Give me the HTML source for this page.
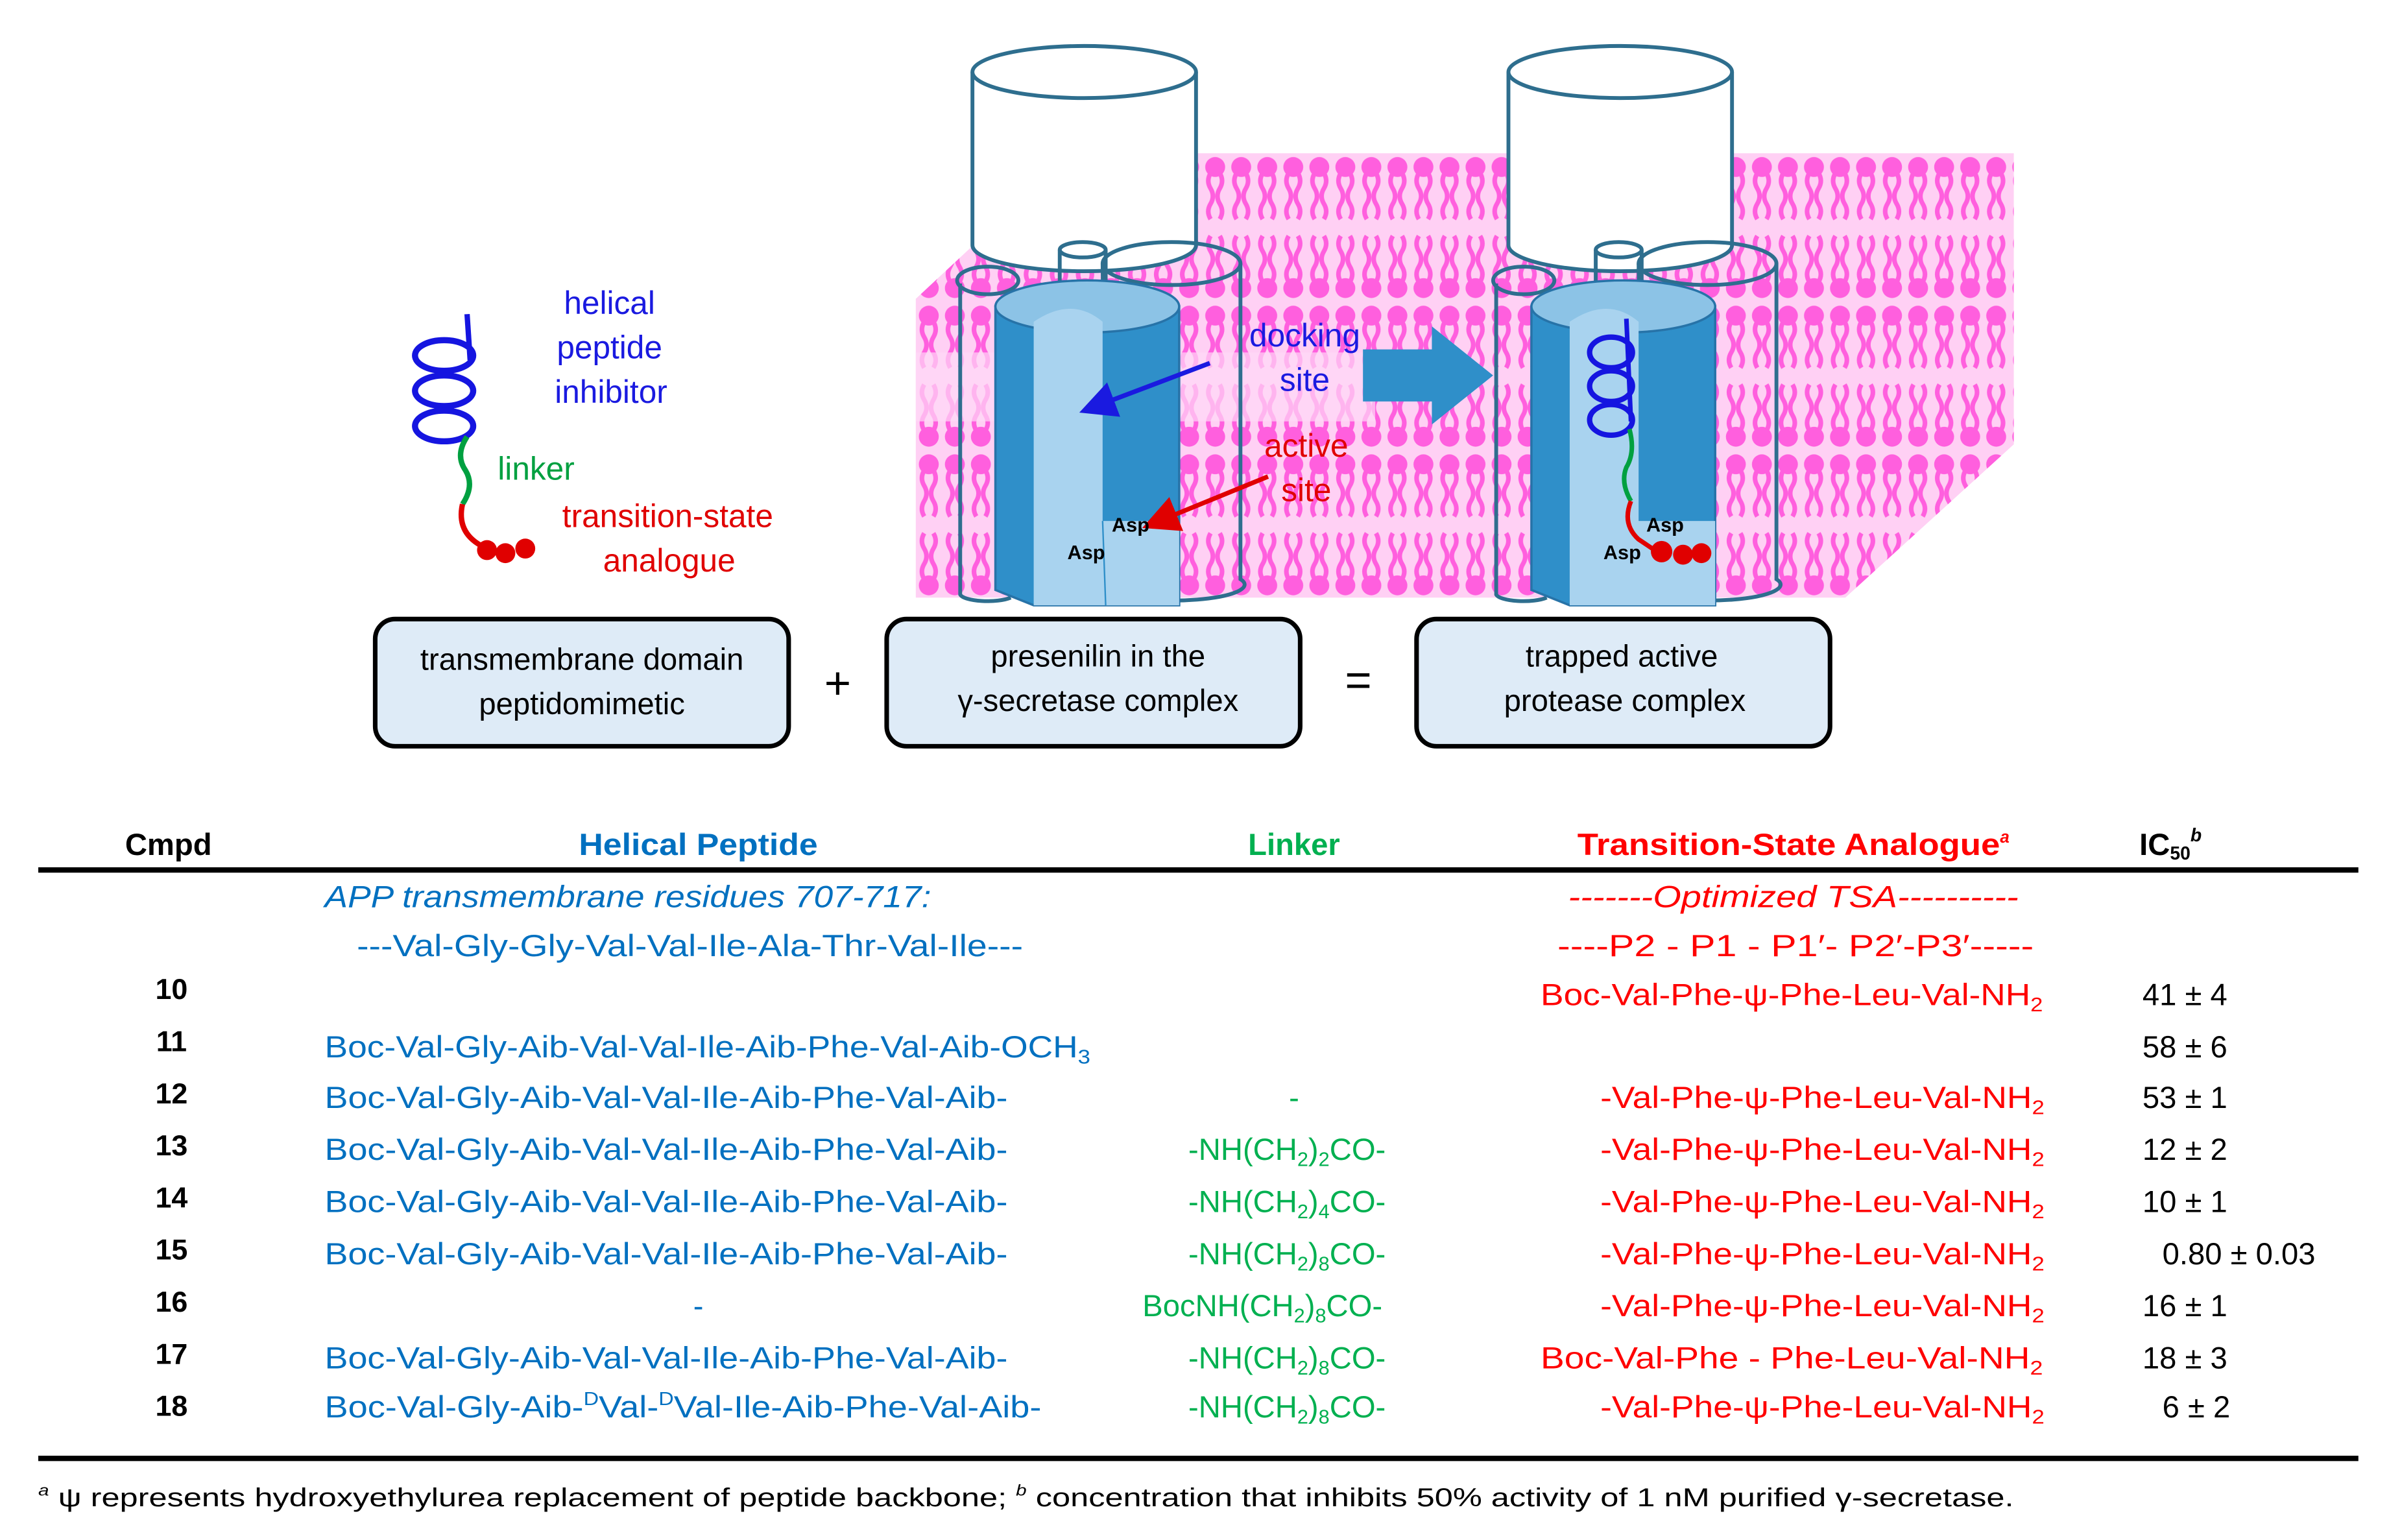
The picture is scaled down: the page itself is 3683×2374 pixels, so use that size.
<!DOCTYPE html>
<html><head><meta charset="utf-8"><style>
html,body{margin:0;padding:0;background:#fff}
svg{display:block}
text{font-family:"Liberation Sans",sans-serif}
</style></head><body>
<svg width="3683" height="2374" viewBox="0 0 1560 1005" preserveAspectRatio="none" xmlns="http://www.w3.org/2000/svg">
<defs>
<pattern id="lip" patternUnits="userSpaceOnUse" x="598" y="100" width="17" height="97">
<rect width="17" height="97" fill="#ffd0f4"/>
<circle cx="8.5" cy="9" r="6.5" fill="#ff5fde"/>
<path d="M5.5 13 q-3 5 0 10 q3 5 0 10 q-3 5 0 10" stroke="#ff5fde" stroke-width="3" fill="none"/>
<path d="M11.5 13 q3 5 0 10 q-3 5 0 10 q3 5 0 10" stroke="#ff5fde" stroke-width="3" fill="none"/>
<circle cx="8.5" cy="88" r="6.5" fill="#ff5fde"/>
<path d="M5.5 84 q-3 -5 0 -10 q3 -5 0 -10 q-3 -5 0 -10" stroke="#ff5fde" stroke-width="3" fill="none"/>
<path d="M11.5 84 q3 -5 0 -10 q-3 -5 0 -10 q3 -5 0 -10" stroke="#ff5fde" stroke-width="3" fill="none"/>
</pattern>
<marker id="ab" markerWidth="8" markerHeight="8" refX="4" refY="4" orient="auto" markerUnits="strokeWidth"><path d="M0 0 L8 4 L0 8 z" fill="#1a1ae0"/></marker>
<marker id="ar" markerWidth="8" markerHeight="8" refX="4" refY="4" orient="auto" markerUnits="strokeWidth"><path d="M0 0 L8 4 L0 8 z" fill="#e00000"/></marker>
</defs>

<polygon points="598,195 700,100 1315,100 1315,290 1205,390 598,390" fill="url(#lip)"/>
<rect x="598" y="230" width="300" height="45" fill="#ffd8f6" opacity="0.7"/>

<g stroke="#2e6e8e" stroke-width="2.5" fill="none">
<path d="M635 47 L635 160 A73 17 0 0 0 781 160 L781 47" fill="#fff"/>
<ellipse cx="708" cy="47" rx="73" ry="17" fill="#fff"/>
<path d="M627 185 L627 388 A18 5 0 0 0 660 390"/>
<ellipse cx="645" cy="183" rx="20" ry="9"/>
<path d="M720 172 L722 385 A45 10 0 0 0 810 378 L810 172"/>
<ellipse cx="765" cy="172" rx="45" ry="14"/>
<path d="M692 163 L692 190 M722 163 L722 190"/>
<ellipse cx="707" cy="163" rx="15" ry="5"/>
</g>
<path d="M650 200 L650 385 L675 395 L770 395 L770 200 Z" fill="#2f8fc9" stroke="#2773a8" stroke-width="1.5"/>
<ellipse cx="710" cy="200" rx="60" ry="17" fill="#8cc3e6" stroke="#2773a8" stroke-width="1.5"/>
<path d="M675 210 Q700 193 720 210 L720 340 L770 340 L770 395 L675 395 Z" fill="#a9d3ef"/>
<path d="M722 345 q7 -10 14 0 q7 -10 14 0 q7 -10 14 0 L764 395 L722 395 Z" fill="#a9d3ef"/>
<path d="M720 340 L722 395" stroke="#2f8fc9" stroke-width="1"/>

<g stroke="#2e6e8e" stroke-width="2.5" fill="none">
<path d="M985 47 L985 160 A73 17 0 0 0 1131 160 L1131 47" fill="#fff"/>
<ellipse cx="1058" cy="47" rx="73" ry="17" fill="#fff"/>
<path d="M977 185 L977 388 A18 5 0 0 0 1010 390"/>
<ellipse cx="995" cy="183" rx="20" ry="9"/>
<path d="M1070 172 L1072 385 A45 10 0 0 0 1160 378 L1160 172"/>
<ellipse cx="1115" cy="172" rx="45" ry="14"/>
<path d="M1042 163 L1042 190 M1072 163 L1072 190"/>
<ellipse cx="1057" cy="163" rx="15" ry="5"/>
</g>
<path d="M1000 200 L1000 385 L1025 395 L1120 395 L1120 200 Z" fill="#2f8fc9" stroke="#2773a8" stroke-width="1.5"/>
<ellipse cx="1060" cy="200" rx="60" ry="17" fill="#8cc3e6" stroke="#2773a8" stroke-width="1.5"/>
<path d="M1025 210 Q1050 193 1070 210 L1070 340 L1120 340 L1120 395 L1025 395 Z" fill="#a9d3ef"/>
<path d="M1062 208 L1065 275" stroke="#1515e0" stroke-width="3" fill="none"/>
<g stroke="#1515e0" stroke-width="3.5" fill="none">
<ellipse cx="1052" cy="230" rx="14" ry="10"/>
<ellipse cx="1052" cy="252" rx="14" ry="10"/>
<ellipse cx="1052" cy="274" rx="14" ry="10"/>
</g>
<path d="M1064 280 q4 15 -2 25 q-4 10 3 22" stroke="#00a040" stroke-width="3" fill="none"/>
<path d="M1065 327 q-6 15 5 25 l12 8" stroke="#e00000" stroke-width="3" fill="none"/>
<circle cx="1085" cy="360" r="7" fill="#e00000"/><circle cx="1099" cy="362" r="6.5" fill="#e00000"/><circle cx="1111" cy="361" r="6.5" fill="#e00000"/>
<text x="1075" y="347" font-size="13" font-weight="bold">Asp</text>
<text x="1047" y="365" font-size="13" font-weight="bold">Asp</text>

<polygon points="890,228 935,228 935,213 975,245 935,277 935,262 890,262" fill="#2f8fc9"/>

<text x="852" y="226" font-size="21" fill="#1a1ae0" text-anchor="middle">docking</text>
<text x="852" y="255" font-size="21" fill="#1a1ae0" text-anchor="middle">site</text>
<text x="853" y="298" font-size="21" fill="#e00000" text-anchor="middle">active</text>
<text x="853" y="327" font-size="21" fill="#e00000" text-anchor="middle">site</text>
<line x1="790" y1="237" x2="716" y2="265" stroke="#1a1ae0" stroke-width="3" marker-end="url(#ab)"/>
<line x1="828" y1="311" x2="757" y2="340" stroke="#e00000" stroke-width="3" marker-end="url(#ar)"/>
<text x="726" y="347" font-size="13" font-weight="bold">Asp</text>
<text x="697" y="365" font-size="13" font-weight="bold">Asp</text>

<path d="M305 205 L307 235" stroke="#1515e0" stroke-width="3.5" fill="none"/>
<g stroke="#1515e0" stroke-width="4" fill="none">
<ellipse cx="290" cy="232" rx="19" ry="10"/>
<ellipse cx="290" cy="255" rx="19" ry="10"/>
<ellipse cx="290" cy="278" rx="19" ry="10"/>
</g>
<path d="M305 285 q-8 12 -1 22 q6 10 -2 22" stroke="#00a040" stroke-width="3.5" fill="none"/>
<path d="M302 329 q-4 18 12 27" stroke="#e00000" stroke-width="3.5" fill="none"/>
<circle cx="318" cy="359" r="6.5" fill="#e00000"/><circle cx="330" cy="361" r="6.5" fill="#e00000"/><circle cx="343" cy="358" r="6.5" fill="#e00000"/>
<text x="398" y="205" font-size="21" fill="#1a1ae0" text-anchor="middle">helical</text>
<text x="398" y="234" font-size="21" fill="#1a1ae0" text-anchor="middle">peptide</text>
<text x="399" y="263" font-size="21" fill="#1a1ae0" text-anchor="middle">inhibitor</text>
<text x="325" y="313" font-size="21" fill="#00a040">linker</text>
<text x="436" y="344" font-size="21" fill="#e00000" text-anchor="middle">transition-state</text>
<text x="437" y="373" font-size="21" fill="#e00000" text-anchor="middle">analogue</text>

<g fill="#deebf7" stroke="#000" stroke-width="3">
<rect x="245" y="404" width="270" height="83" rx="13"/>
<rect x="579" y="404" width="270" height="83" rx="13"/>
<rect x="925" y="404" width="270" height="83" rx="13"/>
</g>
<g font-size="20" text-anchor="middle">
<text x="380" y="437">transmembrane domain</text>
<text x="380" y="466">peptidomimetic</text>
<text x="717" y="435">presenilin in the</text>
<text x="717" y="464">γ-secretase complex</text>
<text x="1059" y="435">trapped active</text>
<text x="1061" y="464">protease complex</text>
<text x="547" y="456" font-size="30">+</text>
<text x="887" y="454" font-size="30">=</text>
</g>

<g font-size="20" font-weight="bold">
<text x="110" y="558" text-anchor="middle">Cmpd</text>
<text x="456" y="558" text-anchor="middle" fill="#0070c0" textLength="156" lengthAdjust="spacingAndGlyphs">Helical Peptide</text>
<text x="845" y="558" text-anchor="middle" fill="#00b050">Linker</text>
<text x="1030" y="558" fill="#ff0000" textLength="276" lengthAdjust="spacingAndGlyphs">Transition-State Analogue</text>
<text x="1306" y="550" font-size="11" fill="#ff0000" font-style="italic">a</text>
<text x="1397" y="558">IC<tspan font-size="12" dy="3">50</tspan><tspan font-size="12" font-style="italic" dy="-12">b</tspan></text>
</g>
<rect x="25" y="566" width="1515" height="3.5" fill="#000"/>
<rect x="25" y="950" width="1515" height="3.5" fill="#000"/>

<g font-size="20">
<text x="212" y="592" fill="#0070c0" font-style="italic" textLength="396" lengthAdjust="spacingAndGlyphs">APP transmembrane residues 707-717:</text>
<text x="233" y="624" fill="#0070c0" textLength="435" lengthAdjust="spacingAndGlyphs">---Val-Gly-Gly-Val-Val-Ile-Ala-Thr-Val-Ile---</text>
<text x="1024" y="592" fill="#ff0000" font-style="italic" textLength="294" lengthAdjust="spacingAndGlyphs">-------Optimized TSA----------</text>
<text x="1017" y="624" fill="#ff0000" textLength="311" lengthAdjust="spacingAndGlyphs">----P2 - P1    -    P1′- P2′-P3′-----</text>

<g font-weight="bold" text-anchor="middle" font-size="19">
<text x="112" y="652">10</text><text x="112" y="686">11</text><text x="112" y="720">12</text>
<text x="112" y="754">13</text><text x="112" y="788">14</text><text x="112" y="822">15</text>
<text x="112" y="856">16</text><text x="112" y="890">17</text><text x="112" y="924">18</text>
</g>

<g fill="#0070c0">
<text x="212" y="690" textLength="500" lengthAdjust="spacingAndGlyphs">Boc-Val-Gly-Aib-Val-Val-Ile-Aib-Phe-Val-Aib-OCH<tspan font-size="13" dy="4">3</tspan></text>
<text x="212" y="723" textLength="446" lengthAdjust="spacingAndGlyphs">Boc-Val-Gly-Aib-Val-Val-Ile-Aib-Phe-Val-Aib-</text>
<text x="212" y="757" textLength="446" lengthAdjust="spacingAndGlyphs">Boc-Val-Gly-Aib-Val-Val-Ile-Aib-Phe-Val-Aib-</text>
<text x="212" y="791" textLength="446" lengthAdjust="spacingAndGlyphs">Boc-Val-Gly-Aib-Val-Val-Ile-Aib-Phe-Val-Aib-</text>
<text x="212" y="825" textLength="446" lengthAdjust="spacingAndGlyphs">Boc-Val-Gly-Aib-Val-Val-Ile-Aib-Phe-Val-Aib-</text>
<text x="456" y="859" text-anchor="middle">-</text>
<text x="212" y="893" textLength="446" lengthAdjust="spacingAndGlyphs">Boc-Val-Gly-Aib-Val-Val-Ile-Aib-Phe-Val-Aib-</text>
<text x="212" y="925" textLength="468" lengthAdjust="spacingAndGlyphs">Boc-Val-Gly-Aib-<tspan font-size="12" dy="-8">D</tspan><tspan dy="8">Val-</tspan><tspan font-size="12" dy="-8">D</tspan><tspan dy="8">Val-Ile-Aib-Phe-Val-Aib-</tspan></text>
</g>

<g fill="#00b050">
<text x="845" y="723" text-anchor="middle">-</text>
<text x="776" y="757">-NH(CH<tspan font-size="13" dy="4">2</tspan><tspan dy="-4">)</tspan><tspan font-size="13" dy="4">2</tspan><tspan dy="-4">CO-</tspan></text>
<text x="776" y="791">-NH(CH<tspan font-size="13" dy="4">2</tspan><tspan dy="-4">)</tspan><tspan font-size="13" dy="4">4</tspan><tspan dy="-4">CO-</tspan></text>
<text x="776" y="825">-NH(CH<tspan font-size="13" dy="4">2</tspan><tspan dy="-4">)</tspan><tspan font-size="13" dy="4">8</tspan><tspan dy="-4">CO-</tspan></text>
<text x="746" y="859">BocNH(CH<tspan font-size="13" dy="4">2</tspan><tspan dy="-4">)</tspan><tspan font-size="13" dy="4">8</tspan><tspan dy="-4">CO-</tspan></text>
<text x="776" y="893">-NH(CH<tspan font-size="13" dy="4">2</tspan><tspan dy="-4">)</tspan><tspan font-size="13" dy="4">8</tspan><tspan dy="-4">CO-</tspan></text>
<text x="776" y="925">-NH(CH<tspan font-size="13" dy="4">2</tspan><tspan dy="-4">)</tspan><tspan font-size="13" dy="4">8</tspan><tspan dy="-4">CO-</tspan></text>
</g>

<g fill="#ff0000">
<text x="1006" y="656" textLength="328" lengthAdjust="spacingAndGlyphs">Boc-Val-Phe-ψ-Phe-Leu-Val-NH<tspan font-size="13" dy="4">2</tspan></text>
<text x="1045" y="723" textLength="290" lengthAdjust="spacingAndGlyphs">-Val-Phe-ψ-Phe-Leu-Val-NH<tspan font-size="13" dy="4">2</tspan></text>
<text x="1045" y="757" textLength="290" lengthAdjust="spacingAndGlyphs">-Val-Phe-ψ-Phe-Leu-Val-NH<tspan font-size="13" dy="4">2</tspan></text>
<text x="1045" y="791" textLength="290" lengthAdjust="spacingAndGlyphs">-Val-Phe-ψ-Phe-Leu-Val-NH<tspan font-size="13" dy="4">2</tspan></text>
<text x="1045" y="825" textLength="290" lengthAdjust="spacingAndGlyphs">-Val-Phe-ψ-Phe-Leu-Val-NH<tspan font-size="13" dy="4">2</tspan></text>
<text x="1045" y="859" textLength="290" lengthAdjust="spacingAndGlyphs">-Val-Phe-ψ-Phe-Leu-Val-NH<tspan font-size="13" dy="4">2</tspan></text>
<text x="1006" y="893" textLength="328" lengthAdjust="spacingAndGlyphs">Boc-Val-Phe   -  Phe-Leu-Val-NH<tspan font-size="13" dy="4">2</tspan></text>
<text x="1045" y="925" textLength="290" lengthAdjust="spacingAndGlyphs">-Val-Phe-ψ-Phe-Leu-Val-NH<tspan font-size="13" dy="4">2</tspan></text>
</g>

<g>
<text x="1399" y="656">41 ± 4</text>
<text x="1399" y="690">58 ± 6</text>
<text x="1399" y="723">53 ± 1</text>
<text x="1399" y="757">12 ± 2</text>
<text x="1399" y="791">10 ± 1</text>
<text x="1412" y="825">0.80 ± 0.03</text>
<text x="1399" y="859">16 ± 1</text>
<text x="1399" y="893">18 ± 3</text>
<text x="1412" y="925">6 ± 2</text>
</g>
</g>

<text x="25" y="983" font-size="17" textLength="1290" lengthAdjust="spacingAndGlyphs"><tspan font-size="10" font-style="italic" dy="-7">a</tspan><tspan dy="7"> ψ represents hydroxyethylurea replacement of peptide backbone; </tspan><tspan font-size="10" font-style="italic" dy="-7">b</tspan><tspan dy="7"> concentration that inhibits 50% activity of 1 nM purified γ-secretase.</tspan></text>
</svg>
</body></html>
